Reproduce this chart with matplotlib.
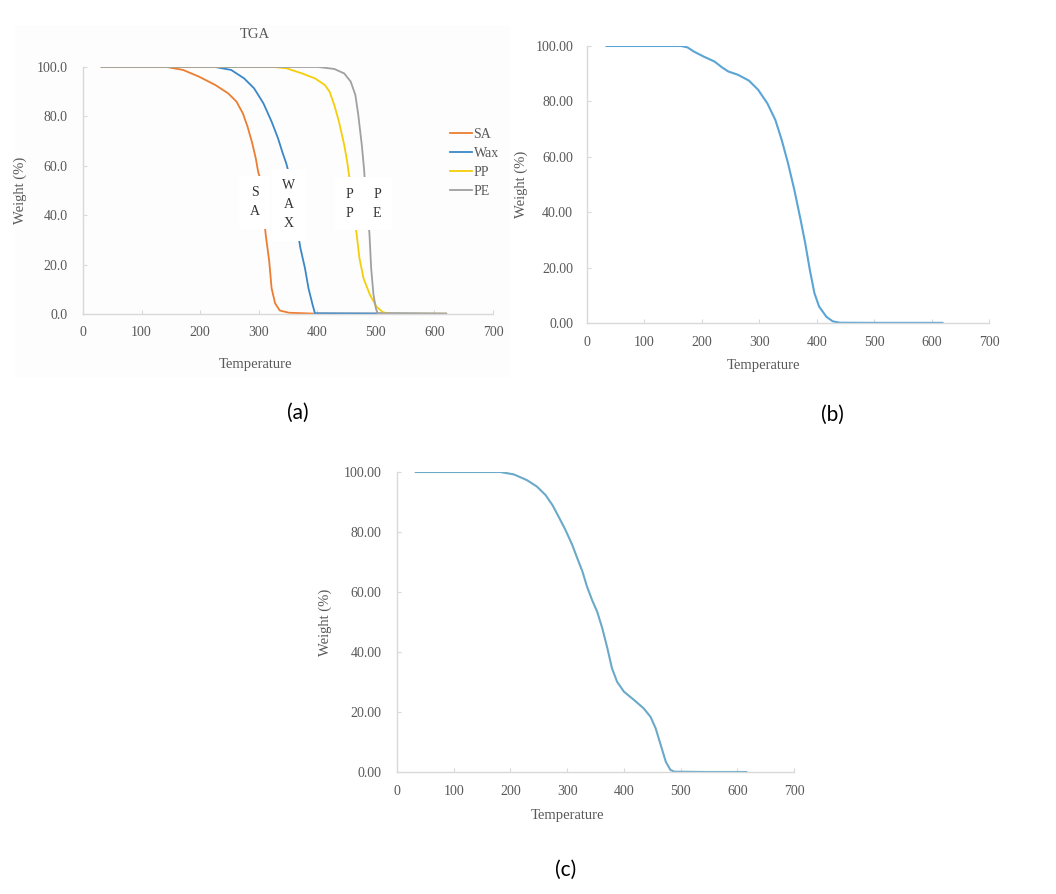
import matplotlib.pyplot as plt

plt.rcParams['font.family'] = ['Liberation Serif', 'DejaVu Serif']

# ---- panel (a): TGA of the four materials ----
sa_temp = [32, 100, 143, 171, 198, 226, 248, 262, 273, 281, 289, 295, 299, 302, 306, 312, 318, 322,
           328, 336, 352, 396, 620]
sa_wt = [100, 100, 100, 98.8, 96.1, 92.7, 89.3, 86, 81.2, 75.8, 69.1, 63, 57.6, 55.2, 46, 32, 21.2, 10.4,
         4.3, 1.4, 0.5, 0.15, 0.1]

wax_temp = [32, 150, 226, 253, 275, 292, 308, 322, 333, 341, 347, 351, 361, 371, 379, 385, 392, 396, 620]
wax_wt = [100, 100, 100, 98.8, 95.4, 91.4, 85.3, 77.9, 71.1, 65.1, 61, 57.4, 42, 26.9, 18.5, 10.4, 3.7, 0.3, 0.1]

pp_temp = [32, 200, 325, 347, 374, 396, 413, 421, 429, 437, 446, 451, 455, 461, 467, 472, 479, 490, 501,
           512, 525, 620]
pp_wt = [100, 100, 100, 99.5, 97.4, 95.4, 92.7, 90, 84.6, 77.9, 68.4, 61.7, 54.9, 44, 32.7, 22.5, 14.4, 7.7,
         3, 0.7, 0.1, 0.1]

pe_temp = [32, 300, 402, 429, 446, 457, 465, 470, 476, 480, 481, 485, 489, 492, 496, 500, 503, 620]
pe_wt = [100, 100, 100, 99.2, 97.4, 94.1, 88.7, 80.6, 68.4, 58.3, 54.3, 44, 32.7, 18.5, 7.7, 2.3, 0.3, 0.1]

# ---- panel (b) ----
b_temp = [34, 100, 164, 175, 186, 203, 222, 235, 246, 263, 282, 298, 314, 328, 339, 350, 361, 372, 380,
          388, 396, 404, 417, 428, 440, 500, 619]
b_wt = [100, 100, 100, 99.5, 98, 96.2, 94.4, 92.3, 90.8, 89.6, 87.5, 84.2, 79.3, 73.3, 66.1, 57.7, 48.1, 37.2,
        28.8, 19.2, 10.8, 6, 2.2, 0.6, 0.1, 0.05, 0.05]

# ---- panel (c) ----
c_temp = [33, 100, 182, 206, 229, 247, 262, 274, 285, 297, 309, 318, 327, 335, 344, 353, 362, 371, 379,
          388, 400, 418, 435, 447, 456, 465, 474, 482, 489, 550, 616]
c_wt = [100, 100, 100, 99.2, 97.3, 95.1, 92.3, 89, 85.1, 80.7, 75.7, 71.2, 66.8, 61.8, 57.3, 53.4, 47.9, 41.2,
        34.6, 30.1, 26.8, 24, 21.2, 18.4, 14.6, 9, 3.4, 0.7, 0.1, 0.0, 0.0]

a_names = ['SA', 'Wax', 'PP', 'PE']
a_colors = ['#ED7D31', '#3A87C8', '#F5CE0A', '#A0A0A0']
# vertical labels sitting on the curves: (text, x, y)
curve_labels = [('S\nA', 293, 45.2), ('W\nA\nX', 351, 44.2),
                ('P\nP', 454, 44.6), ('P\nE', 502, 44.6)]

xticks = [0, 100, 200, 300, 400, 500, 600, 700]
yticks = [0, 20, 40, 60, 80, 100]

W, H = 1056, 894
fig = plt.figure(figsize=(W / 100, H / 100), dpi=100)
fig.patch.set_facecolor('white')

grey = '#595959'
axis_grey = '#D9D9D9'


def px_axes(left, top, right, bottom):
    return fig.add_axes([left / W, 1 - bottom / H, (right - left) / W, (bottom - top) / H])


def style(ax, fmt, ypad, xpad):
    ax.set_xlim(0, 700)
    ax.set_ylim(0, 100)
    ax.set_xticks(xticks)
    ax.set_yticks(yticks)
    ax.set_yticklabels([fmt.format(v) for v in yticks])
    for s in ['top', 'right']:
        ax.spines[s].set_visible(False)
    for s in ['left', 'bottom']:
        ax.spines[s].set_color(axis_grey)
        ax.spines[s].set_linewidth(1.0)
    ax.tick_params(axis='y', direction='in', length=3, color=axis_grey, labelcolor=grey,
                   labelsize=10, pad=ypad)
    ax.tick_params(axis='x', direction='in', length=3, color=axis_grey, labelcolor=grey,
                   labelsize=10, pad=xpad)
    ax.set_facecolor('none')


# faint background of chart (a)
bg = fig.add_axes([15 / W, 1 - 377 / H, 495 / W, 352 / H])
bg.set_facecolor('#FDFDFD')
bg.set_xticks([])
bg.set_yticks([])
for s in bg.spines.values():
    s.set_visible(False)
bg.set_zorder(-1)

# (a)
ax_a = px_axes(83, 67, 493, 314)
series_a = [(sa_temp, sa_wt), (wax_temp, wax_wt), (pp_temp, pp_wt), (pe_temp, pe_wt)]
for (t, w), name, col in zip(series_a, a_names, a_colors):
    ax_a.plot(t, w, color=col, lw=1.3, label=name)
for txt, x, y in curve_labels:
    ax_a.text(x, y, txt, ha='center', va='center', fontsize=10, color='#333333', linespacing=1.6,
              bbox=dict(boxstyle='square,pad=0.75', fc='white', ec='none'), zorder=4)
style(ax_a, '{:.1f}', 11, 9)
ax_a.text(0.42, 1.13, 'TGA', transform=ax_a.transAxes, ha='center', va='center', fontsize=10.5, color=grey)
ax_a.set_xlabel('Temperature', fontsize=10.5, color=grey)
ax_a.xaxis.set_label_coords(0.42, -0.18)
ax_a.set_ylabel('Weight (%)', fontsize=10.5, color=grey)
ax_a.yaxis.set_label_coords(-0.137, 0.5)
ax_a.legend(loc='upper left', bbox_to_anchor=(0.895, 0.755), frameon=False, fontsize=10,
            handlelength=1.6, handletextpad=0.1, labelspacing=0.45, borderaxespad=0, borderpad=0,
            labelcolor=grey)

# (b)
ax_b = px_axes(587, 46, 989, 323)
ax_b.plot(b_temp, b_wt, color='#5AA5D6', lw=1.5)
style(ax_b, '{:.2f}', 10, 9)
ax_b.set_xlabel('Temperature', fontsize=10.5, color=grey)
ax_b.xaxis.set_label_coords(0.44, -0.13)
ax_b.set_ylabel('Weight (%)', fontsize=10.5, color=grey)
ax_b.yaxis.set_label_coords(-0.147, 0.5)

# (c)
ax_c = px_axes(397, 472, 794, 772)
ax_c.plot(c_temp, c_wt, color='#6AAAC8', lw=1.5)
style(ax_c, '{:.2f}', 11, 9.5)
ax_c.set_xlabel('Temperature', fontsize=10.5, color=grey)
ax_c.xaxis.set_label_coords(0.43, -0.125)
ax_c.set_ylabel('Weight (%)', fontsize=10.5, color=grey)
ax_c.yaxis.set_label_coords(-0.164, 0.5)

# panel captions
for lab, x, y in [('(a)', 298, 413), ('(b)', 832, 415), ('(c)', 566, 870)]:
    fig.text(x / W, 1 - y / H, lab, ha='center', va='center', fontsize=15, family=['Lato', 'DejaVu Sans'])

fig.savefig('out.png', dpi=100)
